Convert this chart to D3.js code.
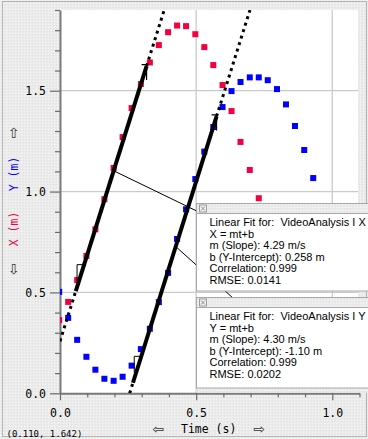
<!DOCTYPE html>
<html><head><meta charset="utf-8">
<script src="https://cdn.jsdelivr.net/npm/d3@7"></script>
<style>html,body{margin:0;padding:0;background:#ececec;overflow:hidden}svg{display:block}.pre{white-space:pre}</style>
</head><body>
<script>
// ---- data ----
const times = [-0.003, 0.030, 0.063, 0.097, 0.130, 0.163, 0.197, 0.230, 0.263, 0.297,
               0.330, 0.363, 0.397, 0.430, 0.463, 0.497, 0.530, 0.563, 0.597, 0.630,
               0.663, 0.697, 0.730, 0.763, 0.797, 0.830, 0.863, 0.897, 0.930];
const xPos = [0.363, 0.453, 0.561, 0.681, 0.813, 0.962, 1.117, 1.270, 1.414, 1.533,
              1.640, 1.726, 1.790, 1.823, 1.820, 1.780, 1.716, 1.627, 1.528, 1.399,
              1.246, 1.107, 0.967];
const yPos = [0.503, 0.374, 0.265, 0.181, 0.117, 0.072, 0.062, 0.082, 0.137, 0.219,
              0.320, 0.452, 0.597, 0.765, 0.912, 1.062, 1.198, 1.320, 1.419, 1.498,
              1.543, 1.566, 1.566, 1.552, 1.508, 1.432, 1.325, 1.206, 1.067];
const xTicks = [0, 0.5, 1.0];
const yTicks = [0, 0.5, 1.0, 1.5];
const fitX = {m: 4.29, b: 0.258, t0: 0.058, t1: 0.318};
const fitY = {m: 4.30, b: -1.10, t0: 0.268, t1: 0.575};
const boxXLines = ["Linear Fit for:  VideoAnalysis I X", "X = mt+b", "m (Slope): 4.29 m/s",
                   "b (Y-Intercept): 0.258 m", "Correlation: 0.999", "RMSE: 0.0141"];
const boxYLines = ["Linear Fit for:  VideoAnalysis I Y", "Y = mt+b", "m (Slope): 4.30 m/s",
                   "b (Y-Intercept): -1.10 m", "Correlation: 0.999", "RMSE: 0.0202"];
const cursorText = "(0.110, 1.642)";

const W = 368, H = 439;
const RED = "#f5003f", BLUE = "#0000ff";
const svg = d3.select("body").append("svg").attr("width", W).attr("height", H);
const defs = svg.append("defs");
const pat = defs.append("pattern").attr("id", "bg").attr("width", 3).attr("height", 3)
  .attr("patternUnits", "userSpaceOnUse");
pat.append("rect").attr("width", 3).attr("height", 3).attr("fill", "#ebebeb");
pat.append("rect").attr("x", 0).attr("y", 0).attr("width", 1).attr("height", 1).attr("fill", "#f7f7f7");
pat.append("rect").attr("x", 2).attr("y", 1).attr("width", 1).attr("height", 1).attr("fill", "#e2e2e2");

const x = d3.scaleLinear([0, 1.1], [60, 359.5]);
const y = d3.scaleLinear([0, 1.9], [393.3, 10]);

svg.append("rect").attr("width", W).attr("height", H).attr("fill", "url(#bg)");
svg.append("rect").attr("x", 2.5).attr("y", 1.5).attr("width", 364).attr("height", 435)
  .attr("fill", "none").attr("stroke", "#b5b5b5");

// plot area
svg.append("rect").attr("x", x(0)).attr("y", y(1.9)).attr("width", x(1.1) - x(0) - 1.5)
  .attr("height", y(0) - y(1.9)).attr("fill", "#fff");
defs.append("clipPath").attr("id", "clip").append("rect")
  .attr("x", x(0)).attr("y", y(1.9)).attr("width", x(1.1) - x(0) - 1.5).attr("height", y(0) - y(1.9));

// grid
const grid = svg.append("g").attr("stroke", "#cacaca").attr("stroke-width", 1.3);
grid.selectAll(".gx").data(xTicks.slice(1)).join("line")
  .attr("x1", d => x(d)).attr("x2", d => x(d)).attr("y1", y(1.9)).attr("y2", y(0));
grid.selectAll(".gy").data(yTicks.slice(1)).join("line")
  .attr("x1", x(0)).attr("x2", x(1.1) - 1.5).attr("y1", d => y(d)).attr("y2", d => y(d));

// axes
const fmt = d3.format(".1f");
const isMajor = (arr, d) => arr.some(v => Math.abs(v - d) < 1e-6);
const yAxis = d3.axisLeft(y).tickValues(d3.range(0, 20).map(i => i / 10)).tickSize(5).tickSizeOuter(0)
  .tickFormat(d => isMajor(yTicks, d) ? fmt(d) : "");
const gy = svg.append("g").attr("transform", `translate(${x(0)},0)`).call(yAxis);
const xAxis = d3.axisBottom(x).tickValues(d3.range(0, 12).map(i => i / 10)).tickSize(4).tickSizeOuter(0)
  .tickFormat(d => isMajor(xTicks, d) ? fmt(d) : "");
const gx = svg.append("g").attr("transform", `translate(0,${y(0)})`).call(xAxis);
[gx, gy].forEach(g => {
  g.select(".domain").attr("stroke", "#7a7a7a").attr("stroke-width", 2);
  g.selectAll(".tick line").attr("stroke", "#6a6a6a").attr("stroke-width", 1.2);
  g.selectAll("text").attr("font-family", "DejaVu Sans Mono").attr("font-size", 11.5).attr("fill", "#000");
});
gy.selectAll(".tick").filter(d => isMajor(yTicks, d)).select("line").attr("x2", -10);
gy.selectAll(".tick text").attr("x", -14).attr("dy", "0.35em");
gx.selectAll(".tick").filter(d => isMajor(xTicks, d)).select("line").attr("y2", 7);
gx.selectAll(".tick text").attr("y", 0).attr("dy", "23.5");

// data points
const plot = svg.append("g").attr("clip-path", "url(#clip)");
const S = 6;
plot.selectAll(".px").data(xPos).join("rect")
  .attr("x", (d, i) => x(times[i]) - S / 2).attr("y", d => y(d) - S / 2)
  .attr("width", S).attr("height", S).attr("fill", RED);
plot.selectAll(".py").data(yPos).join("rect")
  .attr("x", (d, i) => x(times[i]) - S / 2).attr("y", d => y(d) - S / 2)
  .attr("width", S).attr("height", S).attr("fill", BLUE);

// fit lines
function drawFit(f) {
  const val = t => f.m * t + f.b;
  const tTop = (1.9 - f.b) / f.m;
  const tLow = Math.max(0, -f.b / f.m);
  const line = d3.line().x(d => x(d)).y(d => y(val(d)));
  plot.append("path").attr("d", line([tLow, f.t0])).attr("stroke", "#000").attr("stroke-width", 3)
    .attr("stroke-dasharray", "3 3.8").attr("fill", "none");
  plot.append("path").attr("d", line([f.t1, tTop])).attr("stroke", "#000").attr("stroke-width", 3)
    .attr("stroke-dasharray", "3 3.8").attr("fill", "none");
  plot.append("path").attr("d", line([f.t0, f.t1])).attr("stroke", "#000").attr("stroke-width", 4)
    .attr("fill", "none");
  const p0 = [x(f.t0 + 0.012), y(val(f.t0 + 0.012))];
  plot.append("path").attr("d", `M${p0[0] - 2},${p0[1]}V${p0[1] - 16}H${p0[0] + 4}`)
    .attr("stroke", "#000").attr("fill", "none").attr("stroke-width", 1);
  const p1 = [x(f.t1), y(val(f.t1))];
  plot.append("path").attr("d", `M${p1[0] - 5},${p1[1] - 1.5}H${p1[0] + 1}M${p1[0]},${p1[1] - 1.5}V${p1[1] + 14}`)
    .attr("stroke", "#000").attr("fill", "none").attr("stroke-width", 1.2);
  return val;
}
const vX = drawFit(fitX);
const vY = drawFit(fitY);

// leader lines
svg.append("line").attr("x1", x(0.197)).attr("y1", y(vX(0.197))).attr("x2", 205).attr("y2", 215)
  .attr("stroke", "#000").attr("stroke-width", 1);
svg.append("line").attr("x1", x(0.425)).attr("y1", y(vY(0.425))).attr("x2", 233).attr("y2", 298)
  .attr("stroke", "#000").attr("stroke-width", 1);

// fit boxes
function box(top, bottom, lines) {
  const g = svg.append("g");
  g.append("rect").attr("x", 196.5).attr("y", top).attr("width", 180).attr("height", bottom - top)
    .attr("fill", "#fff").attr("stroke", "#a8a8a8");
  g.append("rect").attr("x", 196.5).attr("y", top).attr("width", 180).attr("height", 10)
    .attr("fill", "url(#bg)").attr("stroke", "#a8a8a8");
  g.append("rect").attr("x", 199.5).attr("y", top + 1.5).attr("width", 7).attr("height", 7)
    .attr("fill", "#f4f4f4").attr("stroke", "#9a9a9a");
  g.append("path").attr("d", `M201,${top + 3}l4,4M205,${top + 3}l-4,4`).attr("stroke", "#8a8a8a");
  g.selectAll("text").data(lines).join("text").attr("class", "pre")
    .attr("x", 209.5).attr("y", (d, i) => top + 22.6 + i * 11.55)
    .attr("font-family", "Liberation Sans, Arial, sans-serif").attr("font-size", 11)
    .attr("fill", "#000").text(d => d);
}
box(203.5, 291, boxXLines);
svg.append("rect").attr("x", 196.5).attr("y", 388).attr("width", 180).attr("height", 4.5).attr("fill", "url(#bg)");
box(297.5, 388, boxYLines);

// axis labels
const lab = svg.append("g").attr("font-family", "DejaVu Sans Mono").attr("font-size", 11.5);
lab.append("text").attr("transform", "translate(18,229) rotate(-90)").attr("text-anchor", "middle")
  .attr("fill", RED).text("X (m)");
lab.append("text").attr("transform", "translate(18,174) rotate(-90)").attr("text-anchor", "middle")
  .attr("fill", BLUE).text("Y (m)");
lab.append("text").attr("x", 208.7).attr("y", 433).attr("text-anchor", "middle").attr("fill", "#000").text("Time (s)");
const arr = svg.append("g").attr("font-family", "DejaVu Sans").attr("font-size", 14).attr("fill", "#333")
  .attr("text-anchor", "middle");
arr.append("text").attr("x", 13.5).attr("y", 138).text("\u21E7");
arr.append("text").attr("x", 13.5).attr("y", 274).text("\u21E9");
arr.append("text").attr("x", 158.3).attr("y", 434).text("\u21E6");
arr.append("text").attr("x", 259.3).attr("y", 434).text("\u21E8");
svg.append("text").attr("x", 6.5).attr("y", 436.5).attr("font-family", "DejaVu Sans Mono")
  .attr("font-size", 9).attr("fill", "#000").text(cursorText);
</script>
</body></html>
